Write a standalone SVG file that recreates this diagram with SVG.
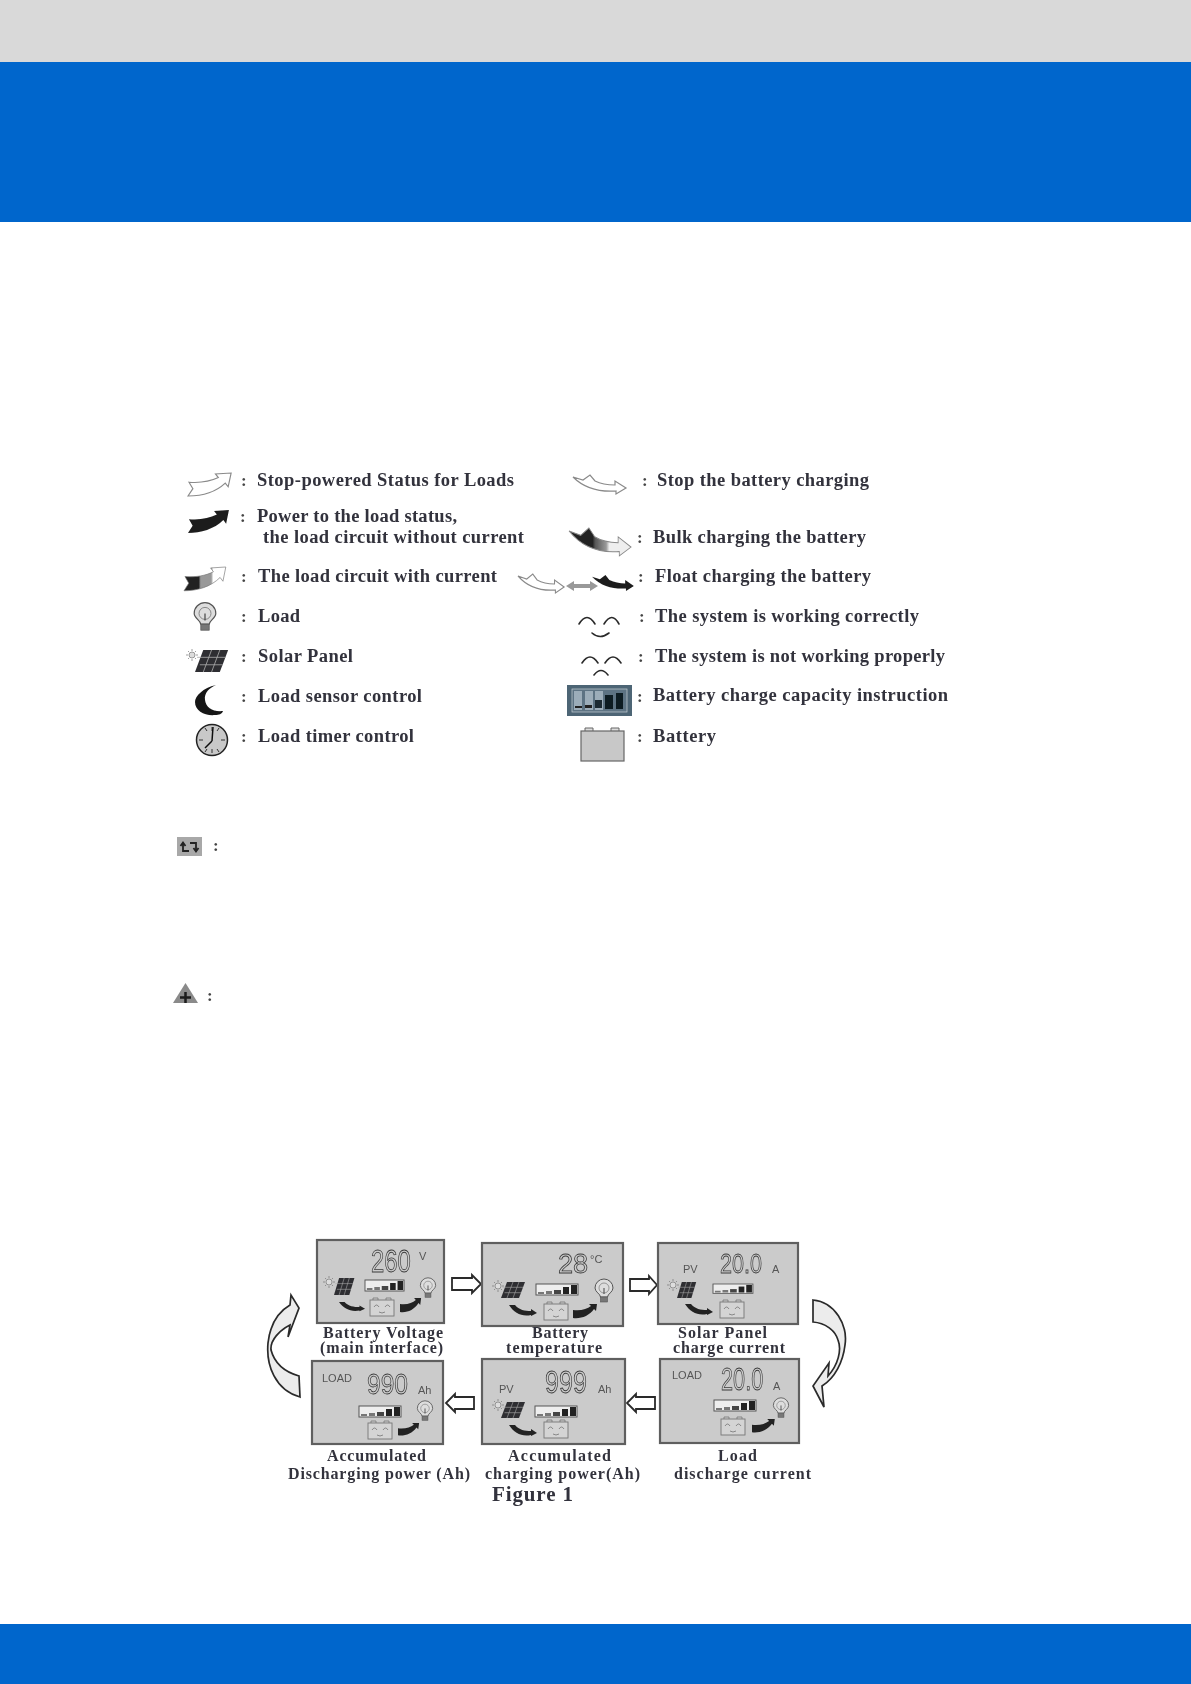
<svg xmlns="http://www.w3.org/2000/svg" width="1191" height="1684" viewBox="0 0 1191 1684">
<style>
.t{font-family:"Liberation Serif","Times New Roman",serif;font-weight:bold;font-size:18.5px;fill:#33333c}
.l{font-size:16px}
.c{font-family:"Liberation Serif",serif;font-weight:bold;font-size:17px;fill:#444}
.lcd{font-family:"Liberation Sans",Arial,sans-serif;fill:none;stroke:#3a3a3a;stroke-width:.8}
.s{font-family:"Liberation Sans",Arial,sans-serif;fill:#555;font-size:11px}
.p{fill:#cbcbcb;stroke:#5e5e5e;stroke-width:2.2}
.ba{fill:#fff;stroke:#2a2a2a;stroke-width:1.8}
.big{fill:#ececec;stroke:#2a2a2a;stroke-width:1.7}
.lt{fill:#fff;stroke:#8a8a8a;stroke-width:1.2}
.arc{fill:none;stroke:#2a2a2a;stroke-width:1.6;stroke-linecap:round}
</style>
<defs>
<filter id="soft" x="-2%" y="-2%" width="104%" height="104%"><feGaussianBlur stdDeviation="0.4"/></filter>
<linearGradient id="gu" x1="0" x2="1" y1="0" y2="0"><stop offset=".35" stop-color="#222"/><stop offset=".4" stop-color="#999"/><stop offset=".65" stop-color="#999"/><stop offset=".7" stop-color="#fff"/></linearGradient>
<linearGradient id="gd" x1="0" x2="1" y1="0" y2="0"><stop offset=".38" stop-color="#222"/><stop offset=".42" stop-color="#555"/><stop offset=".6" stop-color="#999"/><stop offset=".65" stop-color="#eee"/></linearGradient>
<path id="up" d="M0 25L5 17L1 10C13 11 23 9 31 5L28 1L44 0L41 15L38 11C28 21 14 25 0 25Z"/>
<path id="dn" d="M0 2L10 5L17 0L22 6C28 9 35 10 42 10V6L53 13L43 19V16C28 17 12 14 0 2Z"/>
<g id="solar"><path d="M6 0H24L18 16H0Z" fill="#2f2f33"/><path d="M1.500 5.300H22M3.500 10.700H20M12 0L6 16M18 0L12 16" stroke="#aaa" stroke-width=".6"/></g>
<g id="sun"><circle r="3" fill="#ddd" stroke="#777" stroke-width=".7"/><path d="M0-6V-4M0 6V4M-6 0H-4M6 0H4M-4-4L-3-3M4 4L3 3M4-4L3-3M-4 4L-3 3" stroke="#777" stroke-width=".7"/></g>
<g id="bulb"><path d="M-3.500 6C-3.500 3-9 1-9-3A9 9 0 0 1 9-3C9 1 3.500 3 3.500 6Z" fill="#ddd" stroke="#555" stroke-width="1"/><circle cy="-3" r="5" fill="none" stroke="#777" stroke-width=".7"/><path d="M0-3V3" stroke="#444"/><rect x="-3.500" y="6" width="7" height="5" fill="#777" stroke="#555" stroke-width=".6"/></g>
<g id="bat"><rect y="2" width="24" height="16" fill="#d4d4d4" stroke="#777" stroke-width=".9"/><path d="M3 2V0H8V2M16 2V0H21V2" fill="none" stroke="#777" stroke-width=".8"/><path d="M4 9Q6.500 5 9 9M15 9Q17.500 5 20 9M9 14Q12 16 15 14" fill="none" stroke="#666" stroke-width=".7"/></g>
<g id="meter"><rect width="42" height="11" fill="#eee" stroke="#555"/><path d="M2 8H8V10H2ZM10 7H16V10H10Z" fill="#777"/><path d="M18 6H25V10H18Z" fill="#444"/><path d="M27 3H33V10H27Z" fill="#222"/><path d="M35 1H41V10H35Z" fill="#222"/></g>
<path id="a1" d="M0 0L6 0C10 5 16 6 22 6V4L28 8L22 11V10C13 12 5 8 0 0Z" fill="#222"/>
<path id="a2" d="M0 14L0 6C8 7 14 5 18 2L16 0H24L23 7L21 5C16 12 8 15 0 14Z" fill="#222"/>
</defs>
<rect id="top-band" width="1191" height="62" fill="#d9d9d9"/>
<rect id="header-band" y="62" width="1191" height="160" fill="#0066cc"/>
<rect id="footer-band" y="1624" width="1191" height="60" fill="#0066cc"/>
<g filter="url(#soft)">
<g id="legend-left">
<g id="i-stop-load"><use href="#up" class="lt" transform="translate(188 473) scale(.98 .92)"/><text class="c" x="241" y="486">:</text><text class="t" x="257" y="486" textLength="257" lengthAdjust="spacing">Stop-powered Status for Loads</text></g>
<g id="i-power-load"><use href="#up" fill="#1c1c1c" transform="translate(188 510) scale(.93 .92)"/><text class="c" x="240" y="522">:</text><text class="t" x="257" y="522" textLength="200" lengthAdjust="spacing">Power to the load status,</text><text class="t" x="263" y="543" textLength="261" lengthAdjust="spacing">the load circuit without current</text></g>
<g id="i-with-current"><use href="#up" fill="url(#gu)" stroke="#777" stroke-width=".7" transform="translate(184 567) scale(.95 .95)"/><text class="c" x="241" y="582">:</text><text class="t" x="258" y="582" textLength="239" lengthAdjust="spacing">The load circuit with current</text></g>
<g id="i-load"><use href="#bulb" transform="translate(205 617) scale(1.200)"/><text class="c" x="241" y="622">:</text><text class="t" x="258" y="622" textLength="42" lengthAdjust="spacing">Load</text></g>
<g id="i-solar"><use href="#sun" transform="translate(192 655)"/><use href="#solar" transform="translate(195 650) scale(1.380 1.380)"/><text class="c" x="241" y="662">:</text><text class="t" x="258" y="662" textLength="95" lengthAdjust="spacing">Solar Panel</text></g>
<g id="i-moon"><path d="M216 685C203 688 195 696 195 702C195 711 205 716 215 715C219 715 222 714 223 711C213 712 206 708 205 700C204 693 209 688 216 685Z" fill="#151515"/><text class="c" x="241" y="702">:</text><text class="t" x="258" y="702" textLength="164" lengthAdjust="spacing">Load sensor control</text></g>
<g id="i-clock"><circle cx="212" cy="740" r="15.500" fill="#c8c8c8" stroke="#222" stroke-width="1.500"/><path d="M212 727V731M212 753V749M199 740H203M225 740H221M205 728L207 731M219 752L217 749M205 752L207 749M219 728L217 731" stroke="#333"/><path d="M212 741L213 727M212 741L205 748" stroke="#111" stroke-width="1.500" fill="none"/><text class="c" x="241" y="742">:</text><text class="t" x="258" y="742" textLength="156" lengthAdjust="spacing">Load timer control</text></g>
</g>
<g id="legend-right">
<g id="i-stop-bat"><use href="#dn" class="lt" transform="translate(573 475)"/><text class="c" x="642" y="486">:</text><text class="t" x="657" y="486" textLength="212" lengthAdjust="spacing">Stop the battery charging</text></g>
<g id="i-bulk"><use href="#dn" fill="url(#gd)" stroke="#888" stroke-width=".7" transform="translate(569 528) scale(1.170 1.470)"/><text class="c" x="637" y="543">:</text><text class="t" x="653" y="543" textLength="213" lengthAdjust="spacing">Bulk charging the battery</text></g>
<g id="i-float"><use href="#dn" class="lt" transform="translate(518 574) scale(.87 1)"/><path d="M566 586L574 581V584H590V581L598 586L590 591V588H574V591Z" fill="#999"/><use href="#dn" fill="#1c1c1c" transform="translate(592 575) scale(.79 .84)"/><text class="c" x="638" y="582">:</text><text class="t" x="655" y="582" textLength="216" lengthAdjust="spacing">Float charging the battery</text></g>
<g id="i-smile"><path class="arc" d="M579 624Q587 611 595 624M604 624Q612 611 619 624M592 633Q600 640 609 633"/><text class="c" x="639" y="622">:</text><text class="t" x="655" y="622" textLength="264" lengthAdjust="spacing">The system is working correctly</text></g>
<g id="i-sad"><path class="arc" d="M582 663Q590 651 598 663M605 663Q613 651 621 663M594 675Q601 666 608 675"/><text class="c" x="638" y="662">:</text><text class="t" x="655" y="662" textLength="290" lengthAdjust="spacing">The system is not working properly</text></g>
<g id="i-capacity"><rect x="567" y="685" width="65" height="31" fill="#4d6575"/><rect x="572" y="689" width="55" height="23" fill="#5d7383" stroke="#c5ced5" stroke-width=".7"/><path d="M574 691H582V710H574ZM585 691H593V710H585ZM595 691H603V710H595Z" fill="#9cadb9"/><path d="M575 706H582V708H575ZM585 705H592V708H585Z" fill="#222"/><path d="M595 700H602V708H595Z" fill="#1c2a33"/><path d="M605 695H613V709H605ZM616 693H623V709H616Z" fill="#111a20"/><text class="c" x="637" y="702">:</text><text class="t" x="653" y="701" textLength="295" lengthAdjust="spacing">Battery charge capacity instruction</text></g>
<g id="i-battery"><path d="M585 732V728H593V732M611 732V728H619V732" fill="#ddd" stroke="#666"/><rect x="581" y="731" width="43" height="30" fill="#c8c8c8" stroke="#666" stroke-width="1.200"/><text class="c" x="637" y="742">:</text><text class="t" x="653" y="742" textLength="63" lengthAdjust="spacing">Battery</text></g>
</g>
<g id="i-cycle"><rect x="177" y="837" width="25" height="19" fill="#a8a8a8"/><path d="M189 851H183V843M180.500 846L183 842.500L185.500 846M190 843H196V851M193.500 848L196 851.500L198.500 848" fill="none" stroke="#222" stroke-width="1.800"/><text class="c" x="213" y="851">:</text></g>
<g id="i-plus"><path d="M185.500 983L198 1003H173Z" fill="#8a8a8a"/><path d="M185.500 992V1003M180 997.500H191" stroke="#1a1a1a" stroke-width="2.500"/><text class="c" x="207" y="1001">:</text></g>

<g id="connectors">
<path class="ba" d="M452 1278H472V1275L481 1284L472 1293V1290H452Z"/>
<path class="ba" d="M630 1279H649V1276L657 1285L649 1294V1291H630Z"/>
<path class="ba" d="M474 1397H455V1394L446 1403L455 1412V1409H474Z"/>
<path class="ba" d="M655 1397H636V1394L627 1403L636 1412V1409H655Z"/>
<path class="big" d="M300 1397C275 1390 266 1365 268 1343C270 1325 278 1312 290 1305L291 1295L299 1308L288 1337L290 1325C280 1330 270 1340 271 1350C275 1365 285 1372 299 1376Z"/>
<path class="big" d="M813 1300C835 1302 848 1325 845 1345C843 1362 835 1378 822 1386L824 1407L813 1386L829 1363L828 1376C838 1365 842 1350 838 1340C835 1330 825 1323 813 1322Z"/>
</g>

<g id="panel-voltage"><rect class="p" x="317" y="1240" width="127" height="83"/><text class="lcd" transform="translate(371 1272) scale(.77 1)" font-size="31">260</text><text class="s" x="419" y="1260">V</text><use href="#sun" transform="translate(329 1282)"/><use href="#solar" transform="translate(334 1278) scale(.85 1.060)"/><use href="#meter" transform="translate(365 1280) scale(.93 1)"/><use href="#bat" transform="translate(370 1298)"/><use href="#a1" transform="translate(339 1302) scale(.93 .85)"/><use href="#a2" transform="translate(400 1298) scale(.88 1)"/><use href="#bulb" transform="translate(428 1288) scale(.85)"/></g>
<g id="panel-temp"><rect class="p" x="482" y="1243" width="141" height="83"/><text class="lcd" transform="translate(558 1273) scale(.97 1)" font-size="28">28</text><text class="s" x="590" y="1263" font-size="9">°C</text><use href="#sun" transform="translate(498 1286)"/><use href="#solar" transform="translate(501 1282)"/><use href="#meter" transform="translate(536 1284)"/><use href="#bat" transform="translate(544 1302)"/><use href="#a1" transform="translate(509 1305)"/><use href="#a2" transform="translate(573 1304)"/><use href="#bulb" transform="translate(604 1291)"/></g>
<g id="panel-solar"><rect class="p" x="658" y="1243" width="140" height="81"/><text class="s" x="683" y="1273">PV</text><text class="lcd" transform="translate(720 1273) scale(.77 1)" font-size="28">20.0</text><text class="s" x="772" y="1273">A</text><use href="#sun" transform="translate(673 1285)"/><use href="#solar" transform="translate(677 1282) scale(.8 1)"/><use href="#meter" transform="translate(713 1284) scale(.95 .85)"/><use href="#bat" transform="translate(720 1300)"/><use href="#a1" transform="translate(685 1304)"/></g>
<g id="panel-load"><rect class="p" x="660" y="1359" width="139" height="84"/><text class="s" x="672" y="1379" font-size="9">LOAD</text><text class="lcd" transform="translate(721 1390) scale(.7 1)" font-size="31">20.0</text><text class="s" x="773" y="1390">A</text><use href="#meter" transform="translate(714 1400)"/><use href="#bat" transform="translate(721 1417)"/><use href="#a2" transform="translate(752 1419) scale(.95 .95)"/><use href="#bulb" transform="translate(781 1408) scale(.85)"/></g>
<g id="panel-charge"><rect class="p" x="482" y="1359" width="143" height="85"/><text class="s" x="499" y="1393">PV</text><text class="lcd" transform="translate(545 1393) scale(.81 1)" font-size="31">999</text><text class="s" x="598" y="1393">Ah</text><use href="#sun" transform="translate(498 1405)"/><use href="#solar" transform="translate(501 1402)"/><use href="#meter" transform="translate(535 1406)"/><use href="#bat" transform="translate(544 1420)"/><use href="#a1" transform="translate(509 1425)"/></g>
<g id="panel-discharge"><rect class="p" x="312" y="1361" width="131" height="83"/><text class="s" x="322" y="1382" font-size="9">LOAD</text><text class="lcd" transform="translate(367 1394) scale(.82 1)" font-size="30">990</text><text class="s" x="418" y="1394">Ah</text><use href="#meter" transform="translate(359 1406)"/><use href="#bat" transform="translate(368 1421)"/><use href="#a2" transform="translate(398 1423) scale(.88 .88)"/><use href="#bulb" transform="translate(425 1411) scale(.85)"/></g>

<g id="labels">
<text class="t l" x="323" y="1338" textLength="120" lengthAdjust="spacing">Battery Voltage</text>
<text class="t l" x="320" y="1353" textLength="123" lengthAdjust="spacing">(main interface)</text>
<text class="t l" x="532" y="1338" textLength="56" lengthAdjust="spacing">Battery</text>
<text class="t l" x="506" y="1353" textLength="96" lengthAdjust="spacing">temperature</text>
<text class="t l" x="678" y="1338" textLength="89" lengthAdjust="spacing">Solar Panel</text>
<text class="t l" x="673" y="1353" textLength="112" lengthAdjust="spacing">charge current</text>
<text class="t l" x="327" y="1461" textLength="99" lengthAdjust="spacing">Accumulated</text>
<text class="t l" x="288" y="1479" textLength="182" lengthAdjust="spacing">Discharging power (Ah)</text>
<text class="t l" x="508" y="1461" textLength="103" lengthAdjust="spacing">Accumulated</text>
<text class="t l" x="485" y="1479" textLength="155" lengthAdjust="spacing">charging power(Ah)</text>
<text class="t l" x="718" y="1461" textLength="39" lengthAdjust="spacing">Load</text>
<text class="t l" x="674" y="1479" textLength="137" lengthAdjust="spacing">discharge current</text>
<text class="t" style="font-size:21px" x="492" y="1501" textLength="81" lengthAdjust="spacing">Figure  1</text>
</g>
</g>
</svg>
